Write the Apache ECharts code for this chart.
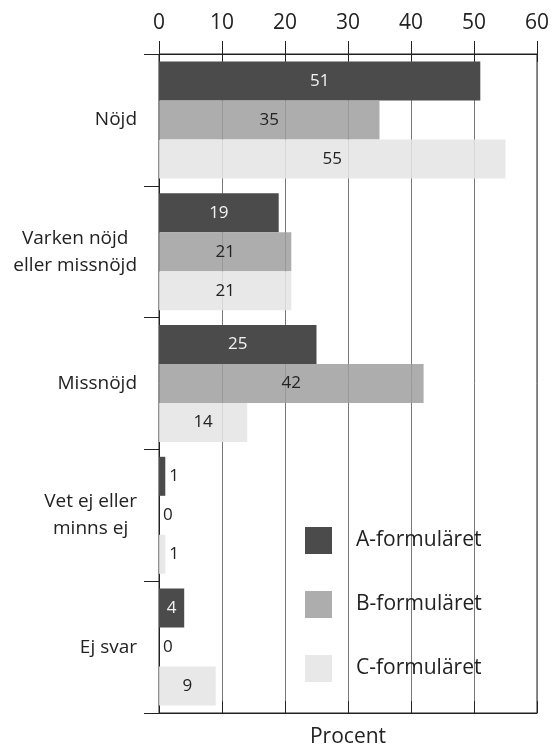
<!DOCTYPE html>
<html>
<head>
<meta charset="utf-8">
<script src="https://cdn.jsdelivr.net/npm/echarts@6/dist/echarts.min.js"></script>
<style>
  html, body { margin: 0; padding: 0; background: #fff; }
  #chart { width: 558px; height: 746px; }
</style>
</head>
<body>
<div id="chart"></div>
<script>
// Answer categories (top to bottom)
const categories = ['Nöjd', 'Varken nöjd\neller missnöjd', 'Missnöjd', 'Vet ej eller\nminns ej', 'Ej svar'];
// Share of respondents, percent, per questionnaire version
const seriesNames = ['A-formuläret', 'B-formuläret', 'C-formuläret'];
const valuesA = [51, 19, 25, 1, 4];
const valuesB = [35, 21, 42, 0, 0];
const valuesC = [55, 21, 14, 1, 9];
const xTicks = [0, 10, 20, 30, 40, 50, 60];

const FONT = '"Open Sans", sans-serif';
const INK = '#222';
const fills = ['#4b4b4b', 'rgba(159,159,159,0.85)', 'rgba(229,229,229,0.88)'];
const labelInk = ['#f2f2f2', INK, INK];

function catLabel(v) {
  // multi-line labels: lines centred inside a right-aligned block
  return v.split('\n').map(l => '{c|' + l + '}').join('\n');
}

function makeSeries(name, values, idx) {
  return {
    name: name,
    type: 'bar',
    barWidth: 39,
    barGap: '0%',
    itemStyle: { color: fills[idx] },
    data: values.map(v => {
      const outside = v < 3;
      return {
        value: v,
        label: {
          show: true,
          position: outside ? 'right' : 'inside',
          distance: 4,
          color: outside ? INK : labelInk[idx],
          fontFamily: FONT,
          fontSize: 17
        }
      };
    })
  };
}

const chart = echarts.init(document.getElementById('chart'), null, { renderer: 'canvas' });
chart.setOption({
  animation: false,
  backgroundColor: '#fff',
  textStyle: { fontFamily: FONT },
  grid: {
    left: 159, right: 21, top: 54, bottom: 33,
    containLabel: false, outerBoundsMode: 'none',
    show: true, borderColor: INK, borderWidth: 1, backgroundColor: 'transparent'
  },
  legend: {
    orient: 'vertical',
    left: 305, top: 527,
    itemWidth: 27, itemHeight: 27, itemGap: 37,
    icon: 'rect',
    padding: 0,
    data: seriesNames,
    textStyle: { fontFamily: FONT, fontSize: 21, color: INK, padding: [0, 0, 0, 19] }
  },
  xAxis: [
    {
      type: 'value', position: 'top', min: xTicks[0], max: xTicks[xTicks.length - 1], interval: 10,
      axisLine: { show: true, lineStyle: { color: INK, width: 1 } },
      axisTick: { show: true, length: 13, lineStyle: { color: INK } },
      axisLabel: { fontFamily: FONT, fontSize: 21, color: INK, margin: 20 },
      splitLine: { show: true, lineStyle: { color: '#777', width: 1 } }
    },
    {
      type: 'value', position: 'bottom', min: xTicks[0], max: xTicks[xTicks.length - 1], interval: 10,
      axisLine: { show: true, lineStyle: { color: INK, width: 1 } },
      axisTick: { show: true, inside: true, length: 12, lineStyle: { color: INK } },
      axisLabel: { show: false },
      splitLine: { show: false },
      name: 'Procent', nameLocation: 'middle', nameGap: 14,
      nameTextStyle: { fontFamily: FONT, fontSize: 21, color: INK }
    },
    {
      type: 'value', position: 'top', min: xTicks[0], max: xTicks[xTicks.length - 1], interval: 10,
      axisLine: { show: false },
      axisTick: { show: true, inside: true, length: 8, lineStyle: { color: INK } },
      axisLabel: { show: false },
      splitLine: { show: false }
    }
  ],
  yAxis: {
    type: 'category', inverse: true, data: categories,
    axisLine: { show: true, lineStyle: { color: INK, width: 1 } },
    axisTick: { show: true, length: 15, lineStyle: { color: INK } },
    axisLabel: {
      fontFamily: FONT, fontSize: 19, color: INK, margin: 22, lineHeight: 27,
      formatter: catLabel,
      rich: { c: { align: 'center', fontFamily: FONT, fontSize: 19, color: INK, lineHeight: 27 } }
    },
    splitLine: { show: false }
  },
  series: [
    makeSeries(seriesNames[0], valuesA, 0),
    makeSeries(seriesNames[1], valuesB, 1),
    makeSeries(seriesNames[2], valuesC, 2)
  ]
});
</script>
</body>
</html>
